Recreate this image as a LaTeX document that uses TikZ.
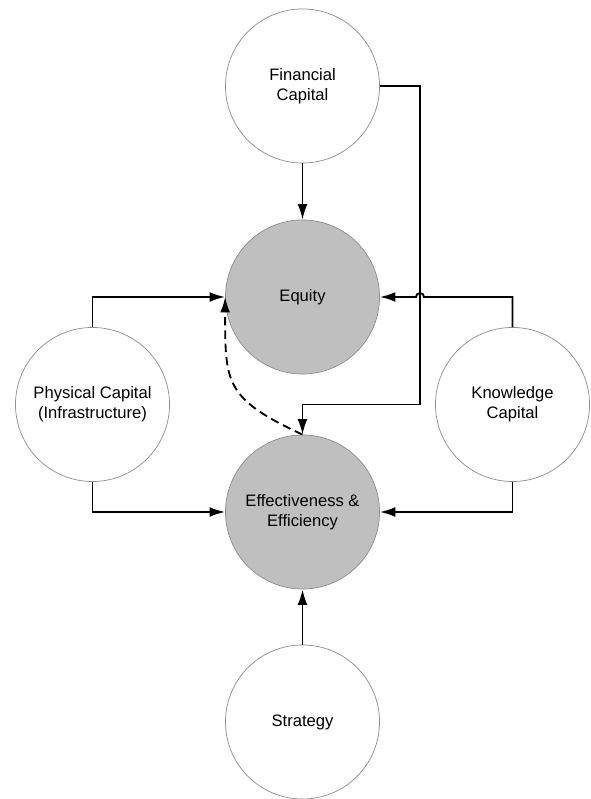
\documentclass[tikz,border=0pt]{standalone}
\usepackage{fontspec}
\setmainfont{Liberation Sans}
\usetikzlibrary{arrows.meta}

\begin{document}
\begin{tikzpicture}[ >={Latex[length=11pt,width=7pt]}, x=0.025cm, y=0.025cm,
  ball/.style={circle, draw=black!45, line width=0.5pt, fill=white, minimum size=3.85cm,
    inner sep=0pt, align=center, font=\fontsize{11.8}{14.2}\selectfont},
  hub/.style={ball, fill=black!25},
  link/.style={->, line width=1.3pt} ]

\useasboundingbox (0,0) rectangle (590,799);

\node[ball] (fin) at (302.5,713) {Financial\\Capital};
\node[hub] (equity) at (302.5,502) {Equity};
\node[hub] (effect) at (302.5,287) {Effectiveness \&\\Efficiency};
\node[ball] (strategy) at (302.5,77) {Strategy};
\node[ball] (physical) at (92.5,394.5) {Physical Capital\\(Infrastructure)};
\node[ball] (knowledge) at (512.5,394.5) {Knowledge\\Capital};

\coordinate (bend) at (420,394.5);
\coordinate (hop) at (424,502);

\draw[link] (fin) -- (equity);
\draw[link] (fin.east) -| (bend) -| (effect.north);

\draw[link] (physical.north) |- (equity.west);
\draw[link] (knowledge.north) |- (hop) arc[start angle=0, end angle=180, radius=4] -- (equity.east);

\draw[link] (physical.south) |- (effect.west);
\draw[link] (knowledge.south) |- (effect.east);
\draw[link] (strategy) -- (effect);

\draw[link, dash pattern=on 6pt off 3.5pt] (effect.north) to[out=155, in=-90, looseness=1.4] (equity.west);

\end{tikzpicture}
\end{document}
